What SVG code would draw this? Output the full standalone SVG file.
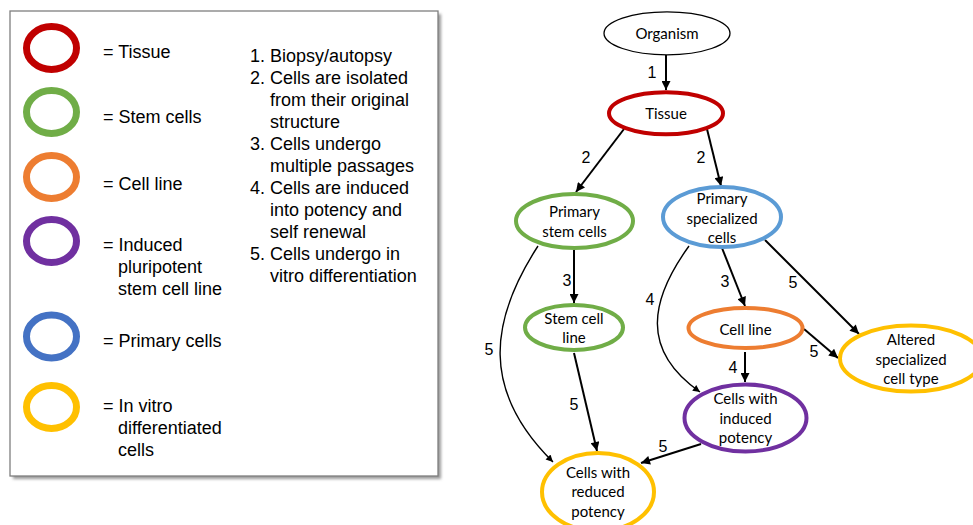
<svg xmlns="http://www.w3.org/2000/svg" width="973" height="525" viewBox="0 0 973 525">
  <style>
    .leg { font-family: "Liberation Sans", Arial, sans-serif; font-size: 18px; fill: #000; }
    .lbl { font-family: "Lato", "Noto Sans", sans-serif; font-size: 15px; fill: #000; text-anchor: middle; }
    .num { font-family: "Liberation Sans", Arial, sans-serif; font-size: 16px; fill: #000; text-anchor: middle; }
    .node { fill: #fff; stroke-width: 4; }
    .key { fill: none; stroke-width: 7; }
    .thick { fill: none; stroke: #000; stroke-width: 2; marker-end: url(#ah); }
    .thin { fill: none; stroke: #000; stroke-width: 1.4; marker-end: url(#ahs); }
  </style>
  <defs>
    <marker id="ah" viewBox="0 0 10 10" refX="10" refY="5" markerUnits="userSpaceOnUse" markerWidth="11" markerHeight="9" orient="auto">
      <path d="M0,0 L10,5 L0,10 z" fill="#000"/>
    </marker>
    <marker id="ahs" viewBox="0 0 10 10" refX="10" refY="5" markerUnits="userSpaceOnUse" markerWidth="9" markerHeight="7" orient="auto">
      <path d="M0,0 L10,5 L0,10 z" fill="#000"/>
    </marker>
    <filter id="shadow" x="-5%" y="-5%" width="110%" height="110%">
      <feGaussianBlur stdDeviation="1.5"/>
    </filter>
  </defs>

  <rect width="973" height="525" fill="#fff"/>

  <!-- Legend panel -->
  <g id="legend">
    <rect x="13" y="14" width="428" height="465" fill="#9a9a9a" filter="url(#shadow)"/>
    <rect x="10" y="11" width="428" height="465" fill="#fff" stroke="#7f7f7f" stroke-width="1.3"/>

    <ellipse class="key" cx="51.5" cy="48" rx="25" ry="21.5" stroke="#C00000"/>
    <ellipse class="key" cx="51.5" cy="112" rx="25" ry="21.5" stroke="#70AD47"/>
    <ellipse class="key" cx="51.5" cy="177" rx="25" ry="21.5" stroke="#ED7D31"/>
    <ellipse class="key" cx="51.5" cy="241" rx="25" ry="21.5" stroke="#7030A0"/>
    <ellipse class="key" cx="51.5" cy="336.5" rx="25" ry="21.5" stroke="#4472C4"/>
    <ellipse class="key" cx="51.5" cy="407" rx="25" ry="21.5" stroke="#FFC000"/>

    <text class="leg" x="103" y="58">= Tissue</text>
    <text class="leg" x="103" y="123">= Stem cells</text>
    <text class="leg" x="103" y="190">= Cell line</text>
    <text class="leg" x="103" y="251">= Induced</text>
    <text class="leg" x="118" y="273">pluripotent</text>
    <text class="leg" x="118" y="295">stem cell line</text>
    <text class="leg" x="103" y="347">= Primary cells</text>
    <text class="leg" x="103" y="412">= In vitro</text>
    <text class="leg" x="118" y="434">differentiated</text>
    <text class="leg" x="118" y="456">cells</text>

    <text class="leg" x="250" y="62">1. Biopsy/autopsy</text>
    <text class="leg" x="250" y="84">2. Cells are isolated</text>
    <text class="leg" x="270" y="106">from their original</text>
    <text class="leg" x="270" y="128">structure</text>
    <text class="leg" x="250" y="150">3. Cells undergo</text>
    <text class="leg" x="270" y="172">multiple passages</text>
    <text class="leg" x="250" y="194">4. Cells are induced</text>
    <text class="leg" x="270" y="216">into potency and</text>
    <text class="leg" x="270" y="238">self renewal</text>
    <text class="leg" x="250" y="260">5. Cells undergo in</text>
    <text class="leg" x="270" y="282">vitro differentiation</text>
  </g>

  <!-- Connectors -->
  <g id="edges">
    <line class="thick" x1="666" y1="55" x2="666" y2="90"/>
    <line class="thick" x1="624" y1="129" x2="576" y2="192"/>
    <line class="thick" x1="707" y1="129" x2="721" y2="186"/>
    <line class="thick" x1="574" y1="250" x2="574" y2="303"/>
    <path class="thin" d="M538,246 C490,320 480,390 553,462"/>
    <line class="thick" x1="574" y1="353" x2="597" y2="451"/>
    <path class="thin" d="M689,246 C650,300 640,350 700,392"/>
    <line class="thick" x1="722" y1="248" x2="745" y2="306"/>
    <line class="thick" x1="765" y1="240" x2="859" y2="334"/>
    <line class="thick" x1="804" y1="329" x2="838" y2="358"/>
    <line class="thick" x1="745" y1="352" x2="745" y2="382"/>
    <line class="thick" x1="701" y1="444" x2="641" y2="463"/>

    <text class="num" x="652" y="78">1</text>
    <text class="num" x="586" y="163">2</text>
    <text class="num" x="701" y="163">2</text>
    <text class="num" x="567" y="286">3</text>
    <text class="num" x="725" y="287">3</text>
    <text class="num" x="489" y="355">5</text>
    <text class="num" x="574" y="410">5</text>
    <text class="num" x="793" y="288">5</text>
    <text class="num" x="814" y="357">5</text>
    <text class="num" x="663" y="452">5</text>
    <text class="num" x="650" y="305">4</text>
    <text class="num" x="733" y="373">4</text>
  </g>

  <!-- Nodes -->
  <g id="organism">
    <ellipse cx="667" cy="33.3" rx="63" ry="21.5" fill="#fff" stroke="#000" stroke-width="1.3"/>
    <text class="lbl" x="667" y="38.5">Organism</text>
  </g>
  <g id="tissue">
    <ellipse class="node" cx="666" cy="113.3" rx="57" ry="21" stroke="#C00000"/>
    <text class="lbl" x="666" y="118.5">Tissue</text>
  </g>
  <g id="primary-stem-cells">
    <ellipse class="node" cx="574.5" cy="221" rx="58.5" ry="27" stroke="#70AD47"/>
    <text class="lbl" x="574.5" y="217">Primary</text>
    <text class="lbl" x="574.5" y="236.5">stem cells</text>
  </g>
  <g id="primary-specialized-cells">
    <ellipse class="node" cx="722" cy="217" rx="59" ry="30" stroke="#5B9BD5"/>
    <text class="lbl" x="722" y="204">Primary</text>
    <text class="lbl" x="722" y="223.5">specialized</text>
    <text class="lbl" x="722" y="243">cells</text>
  </g>
  <g id="stem-cell-line">
    <ellipse class="node" cx="574" cy="327.5" rx="49" ry="22.5" stroke="#70AD47"/>
    <text class="lbl" x="574" y="324">Stem cell</text>
    <text class="lbl" x="574" y="343">line</text>
  </g>
  <g id="cell-line">
    <ellipse class="node" cx="745.5" cy="328" rx="57" ry="20" stroke="#ED7D31"/>
    <text class="lbl" x="745.5" y="335">Cell line</text>
  </g>
  <g id="altered-specialized-cell-type">
    <ellipse class="node" cx="911" cy="358.5" rx="71" ry="33" stroke="#FFC000"/>
    <text class="lbl" x="911" y="345">Altered</text>
    <text class="lbl" x="911" y="364.5">specialized</text>
    <text class="lbl" x="911" y="384">cell type</text>
  </g>
  <g id="cells-with-induced-potency">
    <ellipse class="node" cx="745.5" cy="418" rx="61" ry="33.5" stroke="#7030A0"/>
    <text class="lbl" x="745.5" y="404">Cells with</text>
    <text class="lbl" x="745.5" y="423.5">induced</text>
    <text class="lbl" x="745.5" y="443">potency</text>
  </g>
  <g id="cells-with-reduced-potency">
    <ellipse class="node" cx="598" cy="492" rx="56" ry="39" stroke="#FFC000"/>
    <text class="lbl" x="598" y="477.5">Cells with</text>
    <text class="lbl" x="598" y="497">reduced</text>
    <text class="lbl" x="598" y="516.5">potency</text>
  </g>
</svg>
